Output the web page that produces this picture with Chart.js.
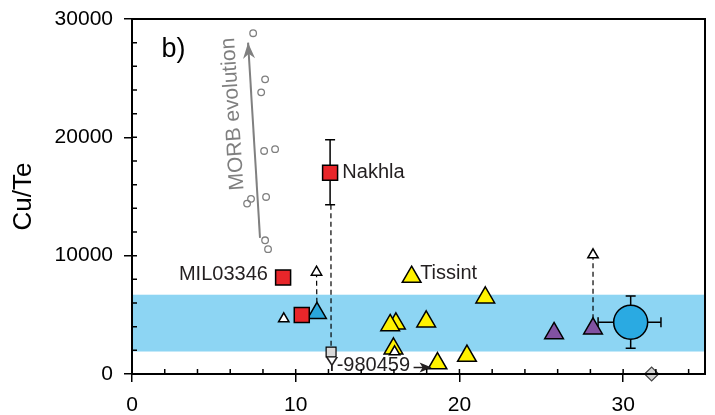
<!DOCTYPE html>
<html><head><meta charset="utf-8">
<script src="https://cdn.jsdelivr.net/npm/chart.js@4/dist/chart.umd.min.js"></script>
<style>html,body{margin:0;padding:0;background:#fff}</style>
</head><body>
<canvas id="c" width="715" height="415"></canvas>
<script>
// ---- data ----
const xTicks = [0, 10, 20, 30];
const yTicks = [0, 10000, 20000, 30000];
const xMinor = [2,4,6,8,12,14,16,18,22,24,26,28,32,34];
const yMinor = [2000,4000,6000,8000,12000,14000,16000,18000,22000,24000,26000,28000];

const morbX = [7.40, 8.13, 7.89, 8.07, 8.74, 8.19, 7.27, 7.03, 8.13, 8.31];
const morbY = [28800, 24900, 23800, 18850, 19000, 14960, 14800, 14400, 11300, 10550];
const morbArrowX = [7.82, 7.09];
const morbArrowY = [11500, 28000];

const redX = [12.1, 9.23, 10.37];
const redY = [17000, 8150, 4990];
const nakhlaErr = [14300, 19800];

const yellowX = [17.08, 21.58, 16.12, 15.77, 17.97, 15.97, 18.66, 20.46];
const yellowY = [8200, 6460, 4260, 4120, 4430, 2150, 900, 1530];

const purpleX = [25.78, 28.16];
const purpleY = [3440, 3840];

const blueTriX = [11.3];
const blueTriY = [5150];

const smallTriX = [9.27, 11.27, 16.04, 28.16];
const smallTriY = [4660, 8600, 1870, 10070];

const graySqX = [12.16];
const graySqY = [1860];

const bigCircleX = [30.46];
const bigCircleY = [4370];
const bigCircleErrX = [28.47, 32.31];
const bigCircleErrY = [2170, 6590];

const diamondX = [31.74];
const diamondY = [0];

const bandRange = [1900, 6700];

const dashLines = [
  [[12.15, 14300], [12.16, 1860]],
  [[11.27, 8600], [11.3, 5150]],
  [[28.16, 10070], [28.16, 3840]]
];

const pts = (xs, ys) => xs.map((v, i) => ({x: v, y: ys[i]}));

const FONT = '"Liberation Sans", Arial, Helvetica, sans-serif';

const datasets = [
  {label:'small', data: pts(smallTriX, smallTriY), pointStyle:'triangle', pointRadius:6, backgroundColor:'#ffffff', borderColor:'#000', borderWidth:1.5, order:1},
  {label:'bigcircle', data: pts(bigCircleX, bigCircleY), pointStyle:'circle', pointRadius:17, backgroundColor:'#2aaae2', borderColor:'#000', borderWidth:1.5, order:2},
  {label:'red', data: pts(redX, redY), pointStyle:'rect', pointRadius:10.6, backgroundColor:'#e8262a', borderColor:'#000', borderWidth:1.5, order:2},
  {label:'gray', data: pts(graySqX, graySqY), pointStyle:'rect', pointRadius:7, backgroundColor:'#d9d9d9', borderColor:'#000', borderWidth:1.2, order:2},
  {label:'yellow', data: pts(yellowX, yellowY), pointStyle:'triangle', pointRadius:10.8, backgroundColor:'#fff200', borderColor:'#000', borderWidth:1.5, order:3},
  {label:'purple', data: pts(purpleX, purpleY), pointStyle:'triangle', pointRadius:10.8, backgroundColor:'#8152a2', borderColor:'#000', borderWidth:1.5, order:3},
  {label:'bluetri', data: pts(blueTriX, blueTriY), pointStyle:'triangle', pointRadius:10.8, backgroundColor:'#2aa6dc', borderColor:'#000', borderWidth:1.5, order:3},
  {label:'diamond', data: pts(diamondX, diamondY), pointStyle:'rectRot', pointRadius:7, backgroundColor:'#d4d4d4', borderColor:'#444', borderWidth:1.2, order:0, clip:false},
  {label:'morb', data: pts(morbX, morbY), pointStyle:'circle', pointRadius:3.3, backgroundColor:'rgba(0,0,0,0)', borderColor:'#7f7f7f', borderWidth:1.3, order:4},
  {label:'arrow', data: pts(morbArrowX, morbArrowY), showLine:true, pointRadius:0, borderColor:'#808080', borderWidth:2, order:5}
];
dashLines.forEach((ln, i) => datasets.push({label:'dash'+i, data: ln.map(p=>({x:p[0], y:p[1]})), showLine:true, pointRadius:0, borderColor:'#000', borderWidth:1.2, borderDash:[5,3.5], order:6}));

const deco = {
  id: 'deco',
  beforeDatasetsDraw(chart) {
    const {ctx, chartArea: a, scales: {x, y}} = chart;
    ctx.save();
    ctx.fillStyle = '#8dd5f3';
    const t = y.getPixelForValue(bandRange[1]), b = y.getPixelForValue(bandRange[0]);
    ctx.fillRect(a.left, t, a.right - a.left, b - t);
    ctx.strokeStyle = '#000'; ctx.lineWidth = 1.5;
    const nx = x.getPixelForValue(redX[0]);
    const n1 = y.getPixelForValue(nakhlaErr[0]), n2 = y.getPixelForValue(nakhlaErr[1]);
    ctx.beginPath();
    ctx.moveTo(nx, n1); ctx.lineTo(nx, n2);
    ctx.moveTo(nx - 5, n1); ctx.lineTo(nx + 5, n1);
    ctx.moveTo(nx - 5, n2); ctx.lineTo(nx + 5, n2);
    ctx.stroke();
    const cx = x.getPixelForValue(bigCircleX[0]), cy = y.getPixelForValue(bigCircleY[0]);
    const ex1 = x.getPixelForValue(bigCircleErrX[0]), ex2 = x.getPixelForValue(bigCircleErrX[1]);
    const ey1 = y.getPixelForValue(bigCircleErrY[0]), ey2 = y.getPixelForValue(bigCircleErrY[1]);
    ctx.beginPath();
    ctx.moveTo(ex1, cy); ctx.lineTo(ex2, cy);
    ctx.moveTo(ex1, cy - 5); ctx.lineTo(ex1, cy + 5);
    ctx.moveTo(ex2, cy - 5); ctx.lineTo(ex2, cy + 5);
    ctx.moveTo(cx, ey1); ctx.lineTo(cx, ey2);
    ctx.moveTo(cx - 5, ey1); ctx.lineTo(cx + 5, ey1);
    ctx.moveTo(cx - 5, ey2); ctx.lineTo(cx + 5, ey2);
    ctx.stroke();
    ctx.restore();
  },
  afterDatasetsDraw(chart) {
    const {ctx, chartArea: a, scales: {x, y}} = chart;
    ctx.save();
    const ax1 = x.getPixelForValue(morbArrowX[0]), ay1 = y.getPixelForValue(morbArrowY[0]);
    const ax2 = x.getPixelForValue(morbArrowX[1]), ay2 = y.getPixelForValue(morbArrowY[1]);
    const ang = Math.atan2(ay2 - ay1, ax2 - ax1);
    ctx.fillStyle = '#808080';
    ctx.beginPath();
    ctx.moveTo(ax2, ay2);
    ctx.lineTo(ax2 - 16*Math.cos(ang) + 6*Math.sin(ang), ay2 - 16*Math.sin(ang) - 6*Math.cos(ang));
    ctx.lineTo(ax2 - 11*Math.cos(ang), ay2 - 11*Math.sin(ang));
    ctx.lineTo(ax2 - 16*Math.cos(ang) - 6*Math.sin(ang), ay2 - 16*Math.sin(ang) + 6*Math.cos(ang));
    ctx.closePath(); ctx.fill();
    ctx.save();
    ctx.translate(x.getPixelForValue(6.17), y.getPixelForValue(21970));
    ctx.rotate(-93.5 * Math.PI / 180);
    ctx.font = '21px ' + FONT; ctx.fillStyle = '#7f7f7f';
    ctx.textAlign = 'center'; ctx.textBaseline = 'middle';
    ctx.fillText('MORB evolution', 0, 0);
    ctx.restore();
    ctx.fillStyle = '#231f20';
    ctx.font = '20px ' + FONT; ctx.textBaseline = 'middle';
    ctx.textAlign = 'left';
    ctx.fillText('Nakhla', x.getPixelForValue(12.85), y.getPixelForValue(17050));
    ctx.fillText('Tissint', x.getPixelForValue(17.6), y.getPixelForValue(8500));
    ctx.fillText('Y-980459', x.getPixelForValue(11.8), y.getPixelForValue(750));
    ctx.textAlign = 'right';
    ctx.fillText('MIL03346', x.getPixelForValue(8.3), y.getPixelForValue(8450));
    const tx1 = x.getPixelForValue(17.2), tx2 = x.getPixelForValue(18.3), ty = y.getPixelForValue(550);
    ctx.strokeStyle = '#231f20'; ctx.lineWidth = 1.5;
    ctx.beginPath(); ctx.moveTo(tx1, ty); ctx.lineTo(tx2 - 6, ty); ctx.stroke();
    ctx.beginPath(); ctx.moveTo(tx2, ty); ctx.lineTo(tx2 - 12, ty - 5); ctx.lineTo(tx2 - 9, ty); ctx.lineTo(tx2 - 12, ty + 5); ctx.closePath(); ctx.fill();
    ctx.fillStyle = '#000'; ctx.textAlign = 'left'; ctx.textBaseline = 'alphabetic';
    ctx.font = '27px ' + FONT;
    ctx.fillText('b)', x.getPixelForValue(1.8), y.getPixelForValue(26790));
    ctx.strokeStyle = '#000'; ctx.lineWidth = 2;
    ctx.strokeRect(a.left, a.top, a.right - a.left, a.bottom - a.top);
    ctx.lineWidth = 1.5;
    ctx.beginPath();
    xMinor.forEach(v => { const p = x.getPixelForValue(v); ctx.moveTo(p, a.bottom); ctx.lineTo(p, a.bottom - 5); });
    xTicks.forEach(v => { const p = x.getPixelForValue(v); ctx.moveTo(p, a.bottom); ctx.lineTo(p, a.bottom - 5); });
    yMinor.forEach(v => { const p = y.getPixelForValue(v); ctx.moveTo(a.left, p); ctx.lineTo(a.left + 5, p); });
    yTicks.forEach(v => { const p = y.getPixelForValue(v); ctx.moveTo(a.left, p); ctx.lineTo(a.left + 5, p); });
    ctx.stroke();
    ctx.restore();
  }
};

new Chart(document.getElementById('c'), {
  type: 'scatter',
  data: { datasets },
  options: {
    responsive: false, animation: false,
    layout: { autoPadding: false, padding: { top: 19, right: 10, left: 0, bottom: 0 } },
    plugins: { legend: { display: false }, tooltip: { enabled: false } },
    scales: {
      x: {
        type: 'linear', min: 0, max: 35,
        afterBuildTicks: s => { s.ticks = xTicks.map(v => ({value: v})); },
        afterFit: s => { s.height = 41; s.paddingLeft = 0; s.paddingRight = 0; },
        border: { display: false },
        grid: { drawOnChartArea: false, drawTicks: true, tickLength: 8, color: '#000', lineWidth: 1.5 },
        ticks: { color: '#000', font: { family: FONT, size: 21 }, padding: 11, maxRotation: 0 }
      },
      y: {
        type: 'linear', min: 0, max: 30000,
        afterBuildTicks: s => { s.ticks = yTicks.map(v => ({value: v})); },
        afterFit: s => { s.width = 132; s.paddingTop = 0; s.paddingBottom = 0; },
        border: { display: false },
        grid: { drawOnChartArea: false, drawTicks: true, tickLength: 8, color: '#000', lineWidth: 1.5 },
        ticks: { color: '#000', font: { family: FONT, size: 21 }, padding: 11, callback: v => String(v) },
        title: { display: true, text: 'Cu/Te', color: '#000', font: { family: FONT, size: 26 }, padding: { top: 8, bottom: 0 } }
      }
    }
  },
  plugins: [deco]
});
</script>
</body></html>
